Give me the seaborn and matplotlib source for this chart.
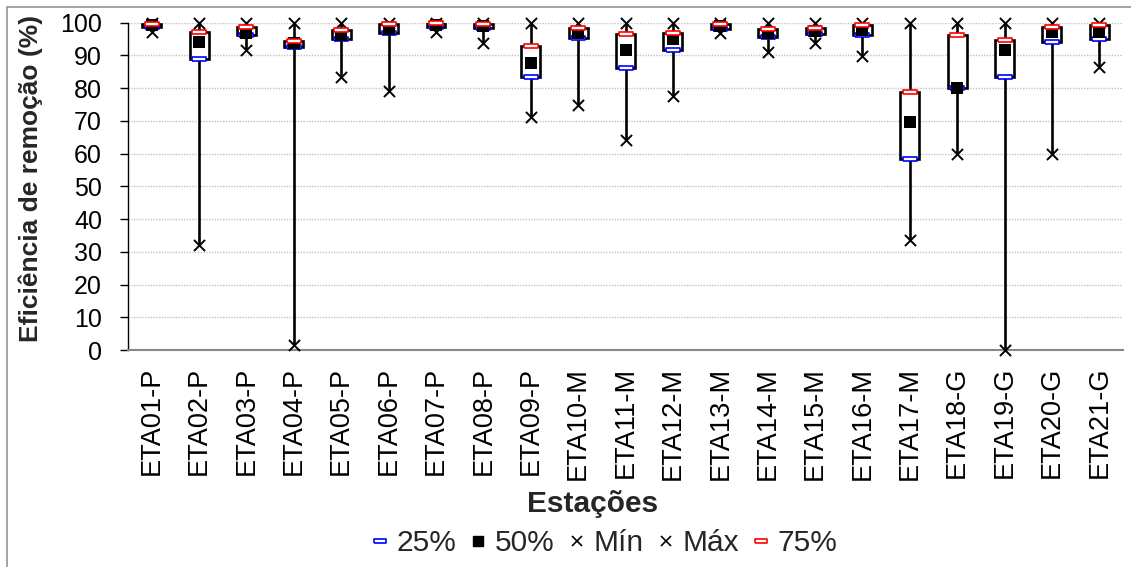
import numpy as np
import pandas as pd
import matplotlib
matplotlib.use("Agg")
import matplotlib.pyplot as plt
import seaborn as sns
from matplotlib.lines import Line2D
from matplotlib.patches import Rectangle

# ---------------- data ----------------
stations = ["ETA01-P", "ETA02-P", "ETA03-P", "ETA04-P", "ETA05-P", "ETA06-P",
            "ETA07-P", "ETA08-P", "ETA09-P", "ETA10-M", "ETA11-M", "ETA12-M",
            "ETA13-M", "ETA14-M", "ETA15-M", "ETA16-M", "ETA17-M", "ETA18-G",
            "ETA19-G", "ETA20-G", "ETA21-G"]
q25 = [98.7, 88.9, 96.2, 92.7, 94.9, 96.9, 98.8, 98.3, 83.4, 95.4, 86.1,
       91.7, 98.2, 95.5, 96.4, 96.3, 58.3, 80.0, 83.4, 94.2, 95.0]
q50 = [99.3, 94.2, 97.0, 93.7, 96.2, 98.0, 99.3, 99.0, 87.6, 97.0, 91.7,
       95.0, 99.0, 96.8, 97.5, 97.8, 69.7, 80.0, 91.7, 97.3, 97.3]
v_min = [97.3, 32.0, 91.7, 1.5, 83.3, 79.2, 97.2, 93.9, 71.3, 75.0, 64.1,
         77.7, 97.0, 91.0, 93.7, 89.9, 33.5, 60.0, 0.0, 60.0, 86.6]
v_max = [100, 100, 100, 100, 100, 100, 100, 100, 100, 100, 100,
         100, 100, 100, 100, 100, 100, 100, 100, 100, 100]
q75 = [99.7, 97.3, 98.6, 94.5, 97.7, 99.6, 99.8, 99.6, 93.0, 98.4, 96.4,
       97.0, 99.5, 98.1, 98.5, 99.2, 78.9, 96.3, 94.8, 98.8, 99.3]
legend_labels = ["25%", "50%", "Mín", "Máx", "75%"]
x_title = "Estações"
y_title = "Eficiência de remoção (%)"
y_ticks = [0, 10, 20, 30, 40, 50, 60, 70, 80, 90, 100]

# ---------------- style ----------------
sns.set_style("white")
plt.rcParams["font.family"] = ["Liberation Sans", "DejaVu Sans"]

W, H = 1131, 567
fig = plt.figure(figsize=(W / 100, H / 100), dpi=100)
ax = fig.add_axes([128 / W, 1 - 350 / H, (1123 - 128) / W, (350 - 22.7) / H])

long = pd.DataFrame({
    "Estação": np.repeat(stations, 5),
    "valor": np.column_stack([v_min, q25, q50, q75, v_max]).ravel(),
})

sns.boxplot(data=long, x="Estação", y="valor", order=stations, whis=(0, 100),
            width=0.4, color="white", linecolor="black", linewidth=1.9,
            showcaps=False, showfliers=False, saturation=1,
            medianprops={"visible": False}, ax=ax)

dash = [(-1, -0.28), (1, -0.28), (1, 0.28), (-1, 0.28), (-1, -0.28)]

common = dict(order=stations, jitter=False, ax=ax, clip_on=False, legend=False)
sns.stripplot(x=stations, y=q25, marker=dash, size=9.5, color="white",
              edgecolor="blue", linewidth=1.2, zorder=4, **common)
sns.stripplot(x=stations, y=q50, marker="s", size=8.3, color="black",
              edgecolor="black", linewidth=0, zorder=5, **common)
sns.stripplot(x=stations, y=v_min, marker="x", size=8, color="black",
              edgecolor="black", linewidth=1.4, zorder=6, **common)
sns.stripplot(x=stations, y=v_max, marker="x", size=8, color="black",
              edgecolor="black", linewidth=1.4, zorder=6, **common)
sns.stripplot(x=stations, y=q75, marker=dash, size=9.5, color="white",
              edgecolor="red", linewidth=1.2, zorder=7, **common)

ax.set_xlim(-0.5, len(stations) - 0.5)
ax.set_ylim(0, 100)
ax.set_yticks(y_ticks)

ax.yaxis.grid(True, color="#c4c4c4", linestyle=(0, (1, 1)), linewidth=1)
ax.xaxis.grid(False)
ax.set_axisbelow(True)

for s in ["top", "right"]:
    ax.spines[s].set_visible(False)
ax.spines["left"].set_color("black")
ax.spines["left"].set_linewidth(1)
ax.spines["bottom"].set_color("#888888")
ax.spines["bottom"].set_linewidth(1.5)

ax.tick_params(axis="x", length=0, pad=12, labelsize=19.5, labelrotation=90,
               colors="black")
ax.tick_params(axis="y", left=True, direction="out", length=5.8, width=1,
               pad=13, labelsize=18, colors="black")

ax.set_ylabel(y_title, fontsize=19, fontweight="bold")
ax.yaxis.set_label_coords((43 - 128) / 995, (350 - 178) / 327.3)
ax.set_xlabel(x_title, fontsize=21.5, fontweight="bold")
ax.xaxis.set_label_coords((593 - 128) / 995, (350 - 490) / 327.3)

handles = [
    Line2D([], [], linestyle="none", marker=dash, markersize=9,
           markerfacecolor="white", markeredgecolor="blue", markeredgewidth=1.2),
    Line2D([], [], linestyle="none", marker="s", markersize=7.5, color="black"),
    Line2D([], [], linestyle="none", marker="x", markersize=7,
           markeredgewidth=1.2, color="black"),
    Line2D([], [], linestyle="none", marker="x", markersize=7,
           markeredgewidth=1.2, color="black"),
    Line2D([], [], linestyle="none", marker=dash, markersize=9,
           markerfacecolor="white", markeredgecolor="red", markeredgewidth=1.2),
]
fig.legend(handles, legend_labels, loc="center",
           bbox_to_anchor=(605 / W, 1 - 543 / H), ncol=5, frameon=False,
           fontsize=21.5, handlelength=0.5, handletextpad=0.3,
           columnspacing=0.5, borderpad=0, borderaxespad=0)

fig.patches.append(Rectangle((7 / W, -0.05), 1.2, (1 - 7 / H) + 0.05,
                             transform=fig.transFigure, fill=False,
                             edgecolor="#8c8c8c", linewidth=1.1))

fig.savefig("out.png", dpi=100)
